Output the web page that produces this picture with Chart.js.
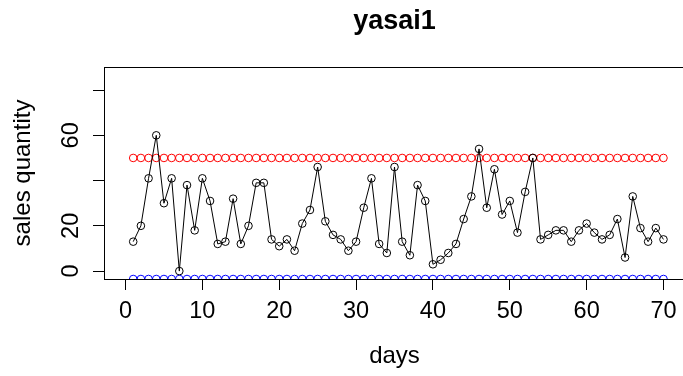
<!DOCTYPE html>
<html>
<head>
<meta charset="utf-8">
<script src="https://cdn.jsdelivr.net/npm/chart.js@4/dist/chart.umd.min.js"></script>
<style>
  html, body { margin: 0; padding: 0; background: #fff; overflow: hidden; }
</style>
</head>
<body>
<canvas id="yasai_chart" width="690" height="376"></canvas>
<script>
// data
const days = [1, 2, 3, 4, 5, 6, 7, 8, 9, 10, 11, 12, 13, 14, 15, 16, 17, 18, 19, 20,
    21, 22, 23, 24, 25, 26, 27, 28, 29, 30, 31, 32, 33, 34, 35, 36, 37, 38, 39, 40,
    41, 42, 43, 44, 45, 46, 47, 48, 49, 50, 51, 52, 53, 54, 55, 56, 57, 58, 59, 60,
    61, 62, 63, 64, 65, 66, 67, 68, 69, 70];

const sales = [13, 20, 41, 60, 30, 41, 0, 38, 18, 41, 31, 12, 13, 32, 12, 20, 39, 39, 14, 11,
    14, 9, 21, 27, 46, 22, 16, 14, 9, 13, 28, 41, 12, 8, 46, 13, 7, 38, 31, 3,
    5, 8, 12, 23, 33, 54, 28, 45, 25, 31, 17, 35, 50, 14, 16, 18, 18, 13, 18, 21,
    17, 14, 16, 23, 6, 33, 19, 13, 19, 14];

const upperLine = [50, 50, 50, 50, 50, 50, 50, 50, 50, 50, 50, 50, 50, 50, 50, 50, 50, 50, 50, 50,
    50, 50, 50, 50, 50, 50, 50, 50, 50, 50, 50, 50, 50, 50, 50, 50, 50, 50, 50, 50,
    50, 50, 50, 50, 50, 50, 50, 50, 50, 50, 50, 50, 50, 50, 50, 50, 50, 50, 50, 50,
    50, 50, 50, 50, 50, 50, 50, 50, 50, 50];

const lowerLine = [-3.5, -3.5, -3.5, -3.5, -3.5, -3.5, -3.5, -3.5, -3.5, -3.5, -3.5, -3.5, -3.5, -3.5, -3.5, -3.5, -3.5, -3.5, -3.5, -3.5,
    -3.5, -3.5, -3.5, -3.5, -3.5, -3.5, -3.5, -3.5, -3.5, -3.5, -3.5, -3.5, -3.5, -3.5, -3.5, -3.5, -3.5, -3.5, -3.5, -3.5,
    -3.5, -3.5, -3.5, -3.5, -3.5, -3.5, -3.5, -3.5, -3.5, -3.5, -3.5, -3.5, -3.5, -3.5, -3.5, -3.5, -3.5, -3.5, -3.5, -3.5,
    -3.5, -3.5, -3.5, -3.5, -3.5, -3.5, -3.5, -3.5, -3.5, -3.5];

const xTicks = [0, 10, 20, 30, 40, 50, 60, 70];
const yTicks = [0, 20, 40, 60, 80];
const yTickLabels = ['0', '20', '', '60', ''];

const font = 'Liberation Sans, Arial, Helvetica, sans-serif';

function toPoints(values) {
    return days.map((d, i) => ({ x: d, y: values[i] }));
}

// box around the plot region, like R's box()
const boxPlugin = {
    id: 'box',
    afterDraw(chart) {
        const a = chart.chartArea;
        const c = chart.ctx;
        c.save();
        c.strokeStyle = '#000';
        c.lineWidth = 1;
        c.strokeRect(Math.round(a.left) + 0.5, Math.round(a.top) + 0.5,
            Math.round(a.right - a.left), Math.round(a.bottom - a.top));
        c.restore();
    }
};

const ctx = document.getElementById('yasai_chart').getContext('2d');

new Chart(ctx, {
    type: 'line',
    data: {
        datasets: [
            {
                label: 'sales',
                data: toPoints(sales),
                borderColor: '#000',
                borderWidth: 1,
                pointRadius: 3.8,
                pointBorderColor: '#000',
                pointBackgroundColor: 'rgba(0,0,0,0)',
                pointBorderWidth: 1,
                fill: false,
                tension: 0
            },
            {
                label: 'upper',
                data: toPoints(upperLine),
                showLine: false,
                pointRadius: 3.8,
                pointBorderColor: '#ff0000',
                pointBackgroundColor: 'rgba(0,0,0,0)',
                pointBorderWidth: 1
            },
            {
                label: 'lower',
                data: toPoints(lowerLine),
                showLine: false,
                clip: 0,
                pointRadius: 3.8,
                pointBorderColor: '#0000ff',
                pointBackgroundColor: 'rgba(0,0,0,0)',
                pointBorderWidth: 1
            }
        ]
    },
    options: {
        responsive: false,
        animation: false,
        devicePixelRatio: 1,
        layout: { padding: { left: 0, right: 3.4, top: 0, bottom: 0 } },
        plugins: {
            legend: { display: false },
            tooltip: { enabled: false },
            title: {
                display: true,
                text: 'yasai1',
                color: '#000',
                fullSize: false,
                font: { family: font, size: 27, weight: 'bold' },
                padding: { top: 5.1, bottom: 29.5 }
            }
        },
        scales: {
            x: {
                type: 'linear',
                min: -2.8,
                max: 72.8,
                afterBuildTicks: (s) => { s.ticks = xTicks.map(v => ({ value: v })); },
                afterFit: (s) => { s.height = 97; },
                grid: { drawOnChartArea: false, drawTicks: true, tickLength: 11, tickColor: '#000', tickWidth: 1 },
                border: { display: true, color: '#000', width: 1 },
                ticks: {
                    color: '#000',
                    padding: 7.8,
                    maxRotation: 0,
                    autoSkip: false,
                    font: { family: font, size: 23.5 }
                },
                title: {
                    display: true,
                    text: 'days',
                    color: '#000',
                    font: { family: font, size: 24 },
                    padding: { top: 0, bottom: 5.4 }
                }
            },
            y: {
                type: 'linear',
                min: -3.5,
                max: 90.2,
                afterBuildTicks: (s) => { s.ticks = yTicks.map(v => ({ value: v })); },
                afterFit: (s) => { s.width = 104; },
                grid: { drawOnChartArea: false, drawTicks: true, tickLength: 11, tickColor: '#000', tickWidth: 1 },
                border: { display: true, color: '#000', width: 1 },
                ticks: {
                    color: '#000',
                    padding: 8,
                    minRotation: 90,
                    maxRotation: 90,
                    crossAlign: 'center',
                    autoSkip: false,
                    font: { family: font, size: 23.5 },
                    callback: (value, index) => yTickLabels[index]
                },
                title: {
                    display: true,
                    text: 'sales quantity',
                    color: '#000',
                    font: { family: font, size: 24 },
                    padding: { top: 8.6, bottom: 0 }
                }
            }
        }
    },
    plugins: [boxPlugin]
});
</script>
</body>
</html>
